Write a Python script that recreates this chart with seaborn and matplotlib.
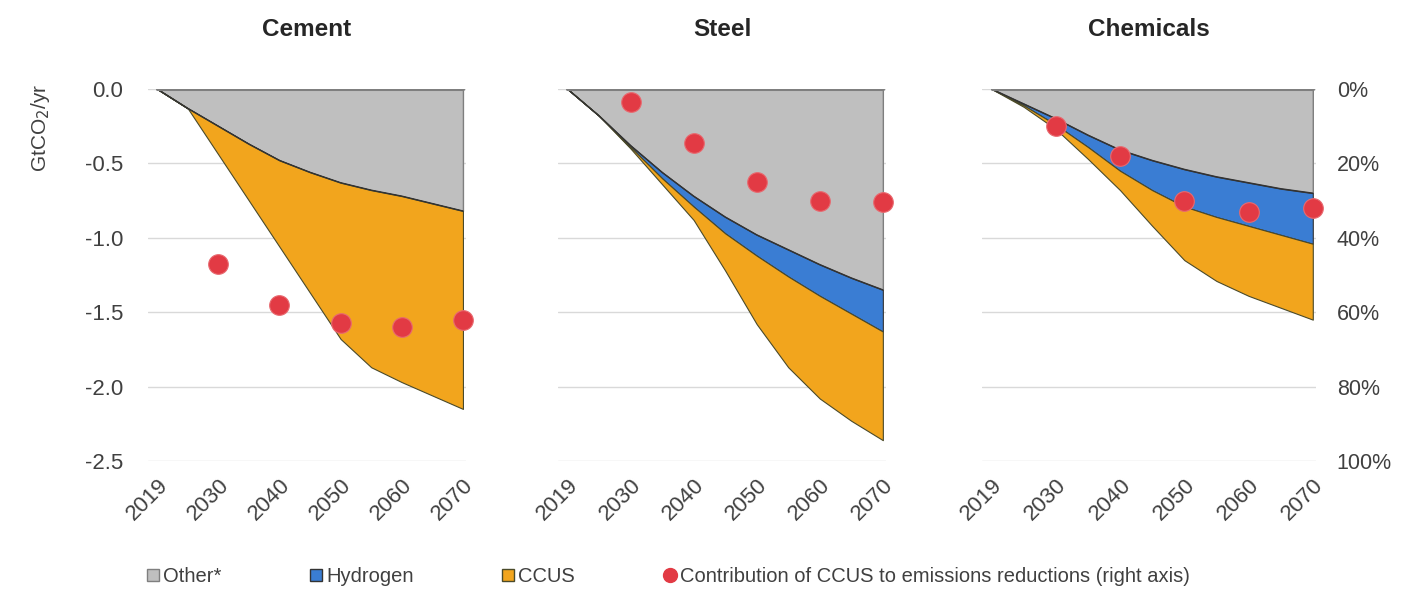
import numpy as np
import matplotlib
matplotlib.use("Agg")
import matplotlib.pyplot as plt
from matplotlib.patches import Patch
from matplotlib.lines import Line2D
import seaborn as sns

# data (GtCO2/yr, reductions vs baseline)
years = ["2019", "2025", "2030", "2035", "2040", "2045", "2050", "2055", "2060", "2065", "2070"]
tick_years = ["2019", "2030", "2040", "2050", "2060", "2070"]
dot_years = ["2030", "2040", "2050", "2060", "2070"]
sectors = ["Cement", "Steel", "Chemicals"]

cement_other = [0, -0.13, -0.25, -0.37, -0.48, -0.56, -0.63, -0.68, -0.72, -0.77, -0.82]
cement_h2 = [0, 0, 0, 0, 0, 0, 0, 0, 0, 0, 0]
cement_ccus = [0, 0, -0.19, -0.38, -0.58, -0.81, -1.05, -1.19, -1.25, -1.29, -1.33]
cement_share = [47, 58, 63, 64, 62]

steel_other = [0, -0.18, -0.38, -0.56, -0.72, -0.86, -0.98, -1.08, -1.18, -1.27, -1.35]
steel_h2 = [0, 0, -0.01, -0.04, -0.07, -0.11, -0.14, -0.18, -0.21, -0.24, -0.28]
steel_ccus = [0, 0, -0.01, -0.04, -0.09, -0.25, -0.46, -0.61, -0.69, -0.72, -0.73]
steel_share = [3.5, 14.5, 25, 30, 30.5]

chem_other = [0, -0.10, -0.20, -0.31, -0.41, -0.48, -0.54, -0.59, -0.63, -0.67, -0.70]
chem_h2 = [0, -0.01, -0.04, -0.08, -0.14, -0.20, -0.25, -0.27, -0.29, -0.31, -0.34]
chem_ccus = [0, -0.01, -0.03, -0.08, -0.13, -0.24, -0.36, -0.43, -0.47, -0.49, -0.51]
chem_share = [10, 18, 30, 33, 32]

c_other = "#BFBFBF"
c_h2 = "#3A7DD3"
c_ccus = "#F2A51D"
c_dot = "#E23A44"

sns.set_style("white")
plt.rcParams['font.family'] = ['Liberation Sans', 'DejaVu Sans']
txt = "#404040"

W, H = 1401, 590
fig, axes = plt.subplots(1, 3, figsize=(14.01, 5.90), dpi=100, sharey=True)
# axes boxes in pixels (left, right) - panels are a little different in width
boxes = [(148, 466), (558, 886), (982, 1316)]
top_px, bot_px = 89, 461
for ax, (l, r) in zip(axes, boxes):
    ax.set_position([l / W, 1 - bot_px / H, (r - l) / W, (bot_px - top_px) / H])

x = np.arange(len(years))
panels = [
    (cement_other, cement_h2, cement_ccus, cement_share),
    (steel_other, steel_h2, steel_ccus, steel_share),
    (chem_other, chem_h2, chem_ccus, chem_share),
]

for i, (ax, name, (oth, h2, ccus, share)) in enumerate(zip(axes, sectors, panels)):
    b1 = np.array(oth)
    b2 = b1 + np.array(h2)
    b3 = b2 + np.array(ccus)
    ax.fill_between(x, 0, b1, facecolor=c_other, edgecolor="#7F7F7F", lw=1.0, zorder=2)
    ax.fill_between(x, b1, b2, facecolor=c_h2, edgecolor="#333333", lw=0.8, zorder=2)
    ax.fill_between(x, b2, b3, facecolor=c_ccus, edgecolor="#4a4a2a", lw=0.8, zorder=2)
    ax.plot(x, b1, color="#333333", lw=1.0, zorder=3)
    ax.plot(x, np.zeros(len(x)), color="#7F7F7F", lw=2.2, zorder=3)

    ax.set_xlim(-0.3, 10.1)
    ax.set_ylim(-2.5, 0)
    ax.set_yticks([0, -0.5, -1.0, -1.5, -2.0, -2.5])
    ax.set_yticklabels(["0.0", "-0.5", "-1.0", "-1.5", "-2.0", "-2.5"])
    ax.grid(axis="y", color="#D9D9D9", lw=1.0, zorder=0)
    ax.grid(axis="x", visible=False)
    ax.set_xticks([years.index(y) for y in tick_years])
    ax.set_xticklabels(tick_years, rotation=45, ha="right", rotation_mode="anchor")
    ax.tick_params(axis="both", length=0, labelsize=16, colors=txt)
    ax.tick_params(axis="y", pad=18)
    ax.tick_params(axis="x", pad=10)
    for s in ax.spines.values():
        s.set_visible(False)
    ax.set_title(name, fontsize=17.5, fontweight="bold", color="#262626", pad=38)

    ax2 = ax.twinx()
    ax2.set_position(ax.get_position())
    ax2.set_ylim(100, 0)
    ax2.set_yticks([0, 20, 40, 60, 80, 100])
    ax2.set_yticklabels(["0%", "20%", "40%", "60%", "80%", "100%"])
    ax2.tick_params(axis="y", length=0, labelsize=15.5, colors=txt, pad=15)
    ax2.grid(False)
    for s in ax2.spines.values():
        s.set_visible(False)
    if i < 2:
        ax2.set_yticklabels([])
    sns.scatterplot(x=[years.index(y) for y in dot_years], y=share, ax=ax2,
                    color=c_dot, s=200, edgecolor="#E86A70", linewidth=0.8,
                    zorder=5, clip_on=False, legend=False)
    ax2.set_xlabel("")
    ax2.set_ylabel("")

fig.text(40 / W, 1 - 128 / H, "GtCO$_2$/yr", rotation=90, ha="center", va="center",
         fontsize=15, color=txt)

handles = [
    Patch(facecolor=c_other, edgecolor="#7F7F7F", label="Other*"),
    Patch(facecolor=c_h2, edgecolor="#333333", label="Hydrogen"),
    Patch(facecolor=c_ccus, edgecolor="#4a4a2a", label="CCUS"),
    Line2D([], [], marker="o", ls="", color=c_dot, markersize=10,
           label="Contribution of CCUS to emissions reductions (right axis)"),
]
fig.legend(handles=handles, loc="lower left", bbox_to_anchor=(0.092, -0.024), ncol=4,
           frameon=False, fontsize=14.5, handlelength=0.6, handleheight=0.6,
           handletextpad=0.2, columnspacing=4.4, labelcolor=txt)

fig.savefig("out.png", dpi=100)
